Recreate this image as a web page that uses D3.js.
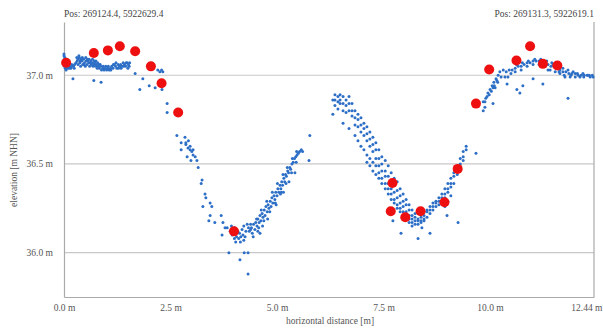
<!DOCTYPE html>
<html><head><meta charset="utf-8">
<script src="https://cdn.jsdelivr.net/npm/d3@7"></script>
<style>html,body{margin:0;padding:0;background:#fff;}svg{display:block;font-family:"Liberation Serif","DejaVu Serif",serif;}</style>
</head><body><svg id="c" width="603" height="329"></svg>
<script>
// ---- data (horizontal distance [m], elevation [m NHN]) ----
const posStart = "Pos: 269124.4, 5922629.4";
const posEnd = "Pos: 269131.3, 5922619.1";
const xTicks = [0, 2.5, 5.0, 7.5, 10.0, 12.44];
const xTickLabels = ["0.0 m", "2.5 m", "5.0 m", "7.5 m", "10.0 m", "12.44 m"];
const yTicks = [36.0, 36.5, 37.0];
const yTickLabels = ["36.0 m", "36.5 m", "37.0 m"];

// point cloud, west plateau
const scanWestPlateau = [
[0.00,37.11],[0.01,37.09],[0.02,37.07],[0.01,37.05],[0.03,37.04],[0.02,37.10],[0.04,37.06],[0.00,37.12],[0.06,37.05],[0.08,37.04],[0.10,37.06],[0.13,37.05],[0.16,37.04],[0.19,37.05],[0.22,37.05],[0.25,37.06],[0.28,37.07],[0.31,37.08],[0.33,37.09],[0.33,37.06],[0.36,37.10],[0.37,37.07],[0.39,37.05],[0.40,37.09],[0.42,37.08],[0.44,37.06],[0.46,37.09],[0.48,37.07],[0.50,37.05],[0.52,37.08],[0.54,37.06],[0.56,37.08],[0.58,37.07],[0.60,37.05],[0.62,37.07],[0.64,37.06],[0.66,37.07],[0.68,37.05],[0.70,37.06],[0.72,37.07],[0.74,37.05],[0.76,37.06],[0.78,37.04],[0.80,37.05],[0.83,37.04],[0.86,37.05],[0.88,37.03],[0.91,37.04],[0.94,37.03],[0.97,37.04],[1.00,37.03],[1.03,37.04],[1.06,37.03],[1.09,37.04],[1.12,37.05],[1.15,37.04],[1.18,37.06],[1.21,37.05],[1.24,37.04],[1.27,37.06],[1.30,37.05],[1.33,37.06],[1.36,37.05],[1.39,37.07],[1.42,37.06],[1.45,37.05],[1.48,37.07],[1.51,37.06],[1.53,37.05],[1.54,37.07],
[0.30,37.10],[0.35,37.11],[0.38,37.08],[0.43,37.10],[0.47,37.06],[0.51,37.10],[0.55,37.09],[0.59,37.09],[0.63,37.08],[0.67,37.09],[0.71,37.08],[0.75,37.08],[0.79,37.07],[0.82,37.06],[0.85,37.06],[0.92,37.05],[0.98,37.05],[1.04,37.05],[1.10,37.03],[1.16,37.06],[1.22,37.07],[1.28,37.04],[1.34,37.04],[1.40,37.05],[1.46,37.07],[1.50,37.04],[0.05,37.03],[0.12,37.04],[0.18,37.06],[0.24,37.04],
[0.21,36.98],[0.70,36.97],[0.87,36.96],[1.67,37.01],[1.85,36.98],[1.78,36.92],[2.00,36.94],[2.14,36.93],[2.20,37.03],[2.25,37.02],[2.29,37.03],[2.32,37.02],[2.30,36.92],[2.42,36.84],[2.42,36.79]
];
// point cloud, western ditch
const scanWestDitch = [
[2.65,36.66],[2.84,36.65],[2.86,36.62],[2.75,36.62],[2.75,36.58],[2.91,36.59],[2.96,36.58],[3.00,36.57],[3.03,36.55],[3.08,36.54],[3.12,36.52],[2.89,36.54],[2.98,36.52],[3.15,36.48],[2.86,36.61],[2.92,36.63],[2.96,36.60],[3.03,36.58],
[3.24,36.41],[3.22,36.39],[3.31,36.33],[3.33,36.31],[3.43,36.28],[3.47,36.26],[3.26,36.26],[3.43,36.21],[3.40,36.18],[3.54,36.17],[3.69,36.21],[3.73,36.17],[3.78,36.14],[3.83,36.14],[3.71,36.10],[3.87,36.00],[4.23,36.00],[4.32,36.00],[4.13,35.96],[4.32,35.88],
[3.90,36.12],[3.95,36.10],[4.00,36.08],[4.05,36.09],[4.10,36.08],[4.15,36.09],[4.20,36.10],[4.25,36.09],[4.00,36.14],[4.08,36.12],[4.18,36.13],[4.27,36.12],[4.33,36.14],[4.38,36.13],[3.93,36.15],[4.12,36.11],[4.22,36.15],[4.30,36.16],[4.03,36.06],[4.14,36.06],[4.22,36.07],
[4.35,36.12],[4.40,36.14],[4.42,36.11],[4.45,36.16],[4.48,36.13],[4.50,36.17],[4.53,36.15],[4.55,36.19],[4.58,36.17],[4.60,36.21],[4.62,36.18],[4.65,36.22],[4.67,36.20],[4.70,36.24],[4.72,36.21],[4.74,36.26],[4.77,36.23],[4.79,36.27],[4.81,36.25],[4.84,36.29],[4.86,36.26],[4.88,36.31],[4.90,36.28],[4.93,36.32],[4.95,36.30],[4.97,36.34],[5.00,36.32],[5.02,36.36],[5.04,36.34],[5.07,36.38],[5.09,36.36],[5.11,36.40],[5.13,36.38],[5.16,36.42],[5.18,36.40],[5.20,36.44],[5.22,36.43],[5.25,36.46],[5.27,36.45],[5.30,36.48],[5.32,36.47],[5.35,36.50],[5.38,36.51],[5.41,36.53],[5.44,36.54],[5.47,36.55],[5.50,36.56],[5.53,36.57],[5.57,36.58],[5.60,36.57],
[4.38,36.16],[4.52,36.19],[4.63,36.24],[4.76,36.29],[4.89,36.34],[5.01,36.39],[5.14,36.44],[5.24,36.48],[5.36,36.53],[5.46,36.57],[4.44,36.09],[4.57,36.14],[4.69,36.18],[4.83,36.23],[4.96,36.28],[5.10,36.34],[5.21,36.39],[5.34,36.45],[5.45,36.51],
[4.55,36.12],[4.66,36.15],[4.78,36.19],[4.98,36.27],[5.15,36.34],[5.28,36.40],[4.60,36.11],[5.08,36.33],[5.77,36.66],[5.75,36.52],[5.42,36.45]
];
// point cloud, eastern ditch
const scanEastDitch = [
[6.31,36.86],[6.31,36.78],[6.36,36.89],[6.36,36.86],[6.36,36.83],[6.43,36.88],[6.43,36.85],[6.43,36.81],[6.48,36.89],[6.48,36.86],[6.48,36.84],
[6.55,36.88],[6.55,36.84],[6.55,36.80],[6.55,36.73],[6.62,36.86],[6.62,36.83],[6.62,36.79],[6.69,36.88],[6.69,36.84],[6.69,36.80],[6.69,36.70],
[6.76,36.84],[6.76,36.80],[6.76,36.77],[6.83,36.80],[6.83,36.76],[6.83,36.72],[6.83,36.66],[6.90,36.78],[6.90,36.75],[6.90,36.71],[6.90,36.63],
[6.97,36.76],[6.97,36.72],[6.97,36.68],[6.97,36.60],[7.04,36.73],[7.04,36.70],[7.04,36.66],[7.04,36.58],
[7.11,36.71],[7.11,36.67],[7.11,36.63],[7.11,36.55],[7.11,36.51],[7.18,36.68],[7.18,36.64],[7.18,36.60],[7.18,36.53],[7.18,36.49],
[7.25,36.65],[7.25,36.61],[7.25,36.57],[7.25,36.51],[7.25,36.46],[7.32,36.62],[7.32,36.58],[7.32,36.53],[7.32,36.49],[7.32,36.44],
[7.39,36.58],[7.39,36.53],[7.39,36.49],[7.39,36.45],[7.39,36.42],[7.46,36.54],[7.46,36.50],[7.46,36.46],[7.46,36.42],[7.46,36.39],
[7.54,36.52],[7.54,36.46],[7.54,36.43],[7.54,36.39],[7.54,36.36],[7.61,36.49],[7.61,36.43],[7.61,36.39],[7.61,36.36],[7.61,36.33],
[7.68,36.45],[7.68,36.40],[7.68,36.36],[7.68,36.33],[7.68,36.30],[7.75,36.42],[7.75,36.38],[7.75,36.34],[7.75,36.30],[7.75,36.28],
[7.82,36.40],[7.82,36.35],[7.82,36.31],[7.82,36.27],[7.82,36.25],[7.89,36.36],[7.89,36.32],[7.89,36.28],[7.89,36.25],[7.89,36.23],
[7.96,36.33],[7.96,36.29],[7.96,36.26],[7.96,36.23],[7.96,36.20],[8.03,36.30],[8.03,36.27],[8.03,36.23],[8.03,36.20],[8.03,36.19],
[8.10,36.27],[8.10,36.24],[8.10,36.21],[8.10,36.19],[8.10,36.17],[8.17,36.24],[8.17,36.21],[8.17,36.19],[8.17,36.17],[8.17,36.15],
[8.24,36.22],[8.24,36.20],[8.24,36.18],[8.24,36.16],[8.31,36.22],[8.31,36.19],[8.31,36.18],[8.31,36.16],[8.38,36.22],[8.38,36.20],[8.38,36.18],[8.38,36.17],
[8.45,36.23],[8.45,36.21],[8.45,36.19],[8.45,36.18],[8.52,36.24],[8.52,36.23],[8.52,36.20],[8.59,36.26],[8.59,36.24],[8.59,36.22],[8.66,36.28],[8.66,36.26],[8.66,36.24],
[8.73,36.29],[8.73,36.28],[8.73,36.26],[8.80,36.31],[8.80,36.29],[8.80,36.27],[8.87,36.33],[8.87,36.31],[8.87,36.29],[8.94,36.36],[8.94,36.33],[8.94,36.31],[8.94,36.26],
[9.01,36.39],[9.01,36.36],[9.01,36.34],[9.01,36.29],[9.08,36.42],[9.08,36.39],[9.08,36.37],[9.08,36.32],[9.15,36.45],[9.15,36.43],[9.15,36.39],
[9.23,36.49],[9.23,36.46],[9.23,36.44],[9.30,36.53],[9.30,36.50],[9.30,36.47],[9.37,36.57],[9.37,36.54],[9.37,36.52],[9.44,36.60],[9.44,36.58],
[9.67,36.56],[7.91,36.11],[8.31,36.08],[8.59,36.11],[8.40,36.14],[7.72,36.18],[8.99,36.21],[9.25,36.17]
];
// point cloud, east plateau
const scanEastPlateau = [
[9.84,36.85],[9.93,36.88],[10.00,36.92],[10.05,36.94],[10.09,36.96],[10.14,36.98],[10.19,37.00],[9.88,36.85],[9.98,36.89],[10.07,36.93],[10.16,36.97],
[9.90,36.87],[9.95,36.90],[10.03,36.91],[10.10,36.94],[10.18,36.96],
[10.23,37.02],[10.31,37.03],[10.38,37.02],[10.45,37.03],[10.49,37.01],[10.35,36.99],[10.26,36.99],[10.42,36.99],[10.52,37.03],
[10.59,37.04],[10.66,37.05],[10.73,37.05],[10.80,37.06],[10.87,37.07],[10.94,37.07],[11.01,37.08],[11.08,37.08],[11.15,37.08],[11.22,37.08],[11.29,37.07],[11.36,37.06],[11.43,37.05],[11.50,37.05],[11.57,37.04],[11.64,37.03],[11.71,37.02],[11.78,37.02],[11.85,37.01],[11.92,37.01],[12.00,37.01],[12.07,37.00],[12.14,37.00],[12.21,37.00],[12.28,37.00],[12.35,36.99],[12.42,36.99],
[11.29,37.05],[11.41,37.03],[11.53,37.02],[11.64,37.01],[11.76,36.99],[11.88,36.99],[12.00,36.99],[12.11,36.99],[11.36,37.03],[11.48,37.06],[11.60,37.05],[11.71,37.04],[11.83,37.03],[11.95,37.02],
[10.59,37.02],[10.73,37.03],[10.87,37.05],[11.01,37.06],[11.15,37.06],[12.20,36.99],[12.30,37.00],[12.40,37.00],
[10.62,37.06],[10.76,37.07],[10.90,37.08],[11.05,37.09],[11.19,37.09],[11.33,37.08],[11.45,37.07],[11.62,37.02],[11.74,37.00],[11.90,37.00],[12.05,37.01],[12.18,37.01],[12.33,37.00],
[9.84,36.80],[10.07,36.84],[10.12,36.93],[10.40,36.95],[10.63,36.92],[10.70,36.90],[10.77,36.94],[11.01,36.98],[11.24,36.95],[11.83,36.87],[9.88,36.82]
];
// surveyed reference points (red)
const surveyPoints = [
[0.05,37.07],[0.70,37.125],[1.03,37.14],[1.31,37.163],[1.67,37.135],[2.04,37.05],[2.29,36.955],[2.68,36.79],[3.99,36.12],
[7.67,36.233],[7.71,36.393],[8.01,36.20],[8.37,36.233],[8.93,36.284],[9.24,36.472],[9.67,36.84],[9.98,37.032],[10.62,37.083],[10.94,37.163],[11.24,37.064],[11.58,37.055]
];

// ---- chart ----
const W = 603, H = 329;
const m = {left: 64, right: 9, top: 22, bottom: 32};
const svg = d3.select("#c");
const x = d3.scaleLinear().domain([0, 12.44]).range([m.left, W - m.right]);
const y = d3.scaleLinear().domain([35.75, 37.3]).range([H - m.bottom, m.top]);
const grey = "#c8c8c8";

// gridlines
svg.append("g").selectAll("line").data(yTicks).join("line")
  .attr("x1", x(0)).attr("x2", x(12.44))
  .attr("y1", d => y(d)).attr("y2", d => y(d))
  .attr("stroke", grey).attr("stroke-width", 1.2);

// y axis
const yAxis = d3.axisLeft(y).tickValues(yTicks).tickSize(0).tickPadding(11)
  .tickFormat((d, i) => yTickLabels[i]);
const gy = svg.append("g").attr("transform", `translate(${x(0)},0)`).call(yAxis);
gy.select(".domain").attr("stroke", "#aaa").attr("stroke-width", 1.2);
gy.selectAll("text").attr("font-family", "Liberation Serif").attr("font-size", 9.5).attr("fill", "#555");

// right frame line
svg.append("line").attr("x1", x(12.44)).attr("x2", x(12.44)).attr("y1", y(37.3)).attr("y2", y(35.75))
  .attr("stroke", "#aaa").attr("stroke-width", 1.2);

// x axis
const xAxis = d3.axisBottom(x).tickValues(xTicks).tickSize(0).tickPadding(7)
  .tickFormat((d, i) => xTickLabels[i]);
const gx = svg.append("g").attr("transform", `translate(0,${y(35.75)})`).call(xAxis);
gx.select(".domain").attr("stroke", "#aaa").attr("stroke-width", 1.2);
gx.selectAll("text").attr("font-family", "Liberation Serif").attr("font-size", 9.5).attr("fill", "#555");
gx.selectAll(".tick").filter(d => d === 12.44).select("text").attr("text-anchor", "end").attr("dx", 8);

// axis titles
svg.append("text").attr("x", 330).attr("y", 324).attr("text-anchor", "middle")
  .attr("font-size", 9.5).attr("fill", "#555").text("horizontal distance [m]");
svg.append("text").attr("transform", "translate(17,170) rotate(-90)").attr("text-anchor", "middle")
  .attr("font-size", 9.5).attr("fill", "#555").text("elevation [m NHN]");

// position labels
svg.append("text").attr("x", x(0)).attr("y", 17).attr("font-size", 9.5).attr("fill", "#444").text(posStart);
svg.append("text").attr("x", x(12.44)).attr("y", 17).attr("text-anchor", "end").attr("font-size", 9.5).attr("fill", "#444").text(posEnd);

// point cloud
const cloud = [].concat(scanWestPlateau, scanWestDitch, scanEastDitch, scanEastPlateau);
svg.append("g").selectAll("circle").data(cloud).join("circle")
  .attr("cx", d => x(d[0])).attr("cy", d => y(d[1])).attr("r", 1.5)
  .attr("fill", "#2d6fc6");

// survey points
svg.append("g").selectAll("circle").data(surveyPoints).join("circle")
  .attr("cx", d => x(d[0])).attr("cy", d => y(d[1])).attr("r", 5)
  .attr("fill", "#ee1010");
</script></body></html>
